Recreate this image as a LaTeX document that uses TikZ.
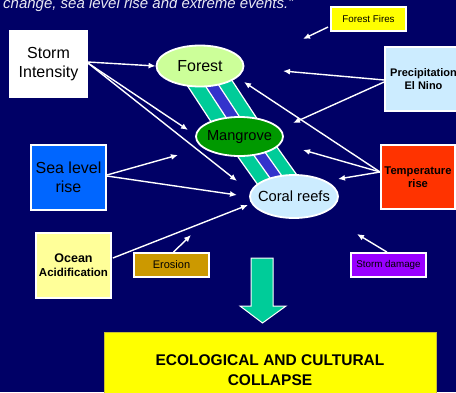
\documentclass[tikz,border=0pt]{standalone}
\usepackage{fontspec}
\setmainfont{Liberation Sans}
\usetikzlibrary{arrows.meta,shapes.geometric}
\definecolor{bg}{HTML}{000066}
\definecolor{forestc}{HTML}{CCFF99}
\definecolor{mangc}{HTML}{009900}
\definecolor{coralc}{HTML}{CCECFF}
\definecolor{tealc}{HTML}{00CC99}
\definecolor{bluec}{HTML}{3333CC}
\definecolor{seac}{HTML}{0066FF}
\definecolor{tempc}{HTML}{FF3300}
\definecolor{oceanc}{HTML}{FFFF99}
\definecolor{erosc}{HTML}{CC9900}
\definecolor{stormc}{HTML}{9900FF}
\definecolor{firec}{HTML}{FFFF00}
\definecolor{topc}{HTML}{E8E8F2}
\tikzset{
  box/.style={draw=white, line width=1.8pt, inner sep=0pt, align=center, text=black},
  oval/.style={ellipse, draw=white, line width=1.8pt, inner sep=0pt, text=black},
  arr/.style={draw=white, line width=1.4pt, -{Latex[length=7pt,width=6pt]}},
  bandline/.style={draw=white, line width=1.2pt},
}
\begin{document}
\begin{tikzpicture}[x=1pt,y=-1pt]
\fill[bg] (0,0) rectangle (456,392);
\useasboundingbox (0,0) rectangle (456,392);

% top text
\node[anchor=base west, inner sep=0pt, text=topc, font=\itshape\fontsize{15}{17}\selectfont] (quote) at (3,8.5) {change, sea level rise and extreme events.”};

% bands
\fill[tealc] (170.6,60) -- (218.6,60) -- (271,140) -- (223,140) -- cycle;
\fill[bluec] (188.4,60) -- (202.3,60) -- (254.7,140) -- (240.8,140) -- cycle;
\path[bandline] (170.6,60) -- (223,140) (188.4,60) -- (240.8,140) (202.3,60) -- (254.7,140) (218.6,60) -- (271,140);
\fill[tealc] (226,140) -- (272,140) -- (314.6,200) -- (268.6,200) -- cycle;
\fill[bluec] (243,140) -- (256.4,140) -- (299,200) -- (285.6,200) -- cycle;
\path[bandline] (226,140) -- (268.6,200) (243,140) -- (285.6,200) (256.4,140) -- (299,200) (272,140) -- (314.6,200);

% ellipses
\node[oval, fill=forestc, minimum width=87, minimum height=41, font=\fontsize{16}{18}\selectfont] (fo) at (200,66) {\makebox[0pt]{Forest}};
\node[oval, fill=mangc, minimum width=87, minimum height=39, font=\fontsize{14.6}{17}\selectfont] (ma) at (239.5,136.5) {\makebox[0pt]{Mangrove}};
\node[oval, fill=coralc, minimum width=88, minimum height=43, font=\fontsize{14.7}{17}\selectfont] (co) at (294,196.5) {\makebox[0pt]{Coral reefs}};

% boxes
\node[box, fill=white, minimum width=77, minimum height=66, font=\fontsize{16}{18.5}\selectfont] (si) at (48.5,64) {Storm\\Intensity};
\node[box, fill=firec, minimum width=75, minimum height=24, font=\fontsize{9.8}{11}\selectfont] (ff) at (368.5,19) {Forest Fires};
\node[box, fill=coralc, minimum width=77, minimum height=64, font=\bfseries\fontsize{11}{13.5}\selectfont] (pr) at (423.5,79) {Precipitation\\El Nino};
\node[box, fill=tempc, minimum width=74, minimum height=64, font=\bfseries\fontsize{11.2}{13}\selectfont] (te) at (418,177) {\makebox[0pt]{Temperature}\\rise};
\node[box, fill=seac, minimum width=75, minimum height=65, font=\fontsize{16}{19}\selectfont] (se) at (68.5,177.5) {Sea level\\rise};
\node[box, fill=oceanc, minimum width=75, minimum height=65, font=\bfseries\fontsize{11.5}{14}\selectfont] (oc) at (73.5,265.5) {{\fontsize{12.5}{14}\selectfont Ocean}\\Acidification};
\node[box, fill=erosc, minimum width=75, minimum height=24, font=\fontsize{11}{12}\selectfont] (er) at (171.5,265) {Erosion};
\node[box, fill=stormc, minimum width=75, minimum height=24, font=\fontsize{9.8}{11}\selectfont] (sd) at (388.5,265) {Storm damage};

% arrow tips
\coordinate (tSM) at (188,130);
\coordinate (tSC) at (237,181);
\coordinate (tPF) at (283,71);
\coordinate (tPM) at (293,123);
\coordinate (tTF) at (244,82);
\coordinate (tTM) at (303,150);
\coordinate (tTC) at (338,179);
\coordinate (tEM) at (178,155);
\coordinate (tEC) at (237,195);
\coordinate (tOC) at (248,205);
\coordinate (tER) at (191,235);
\coordinate (tSD) at (357,234);
\coordinate (tFF) at (303,39);

\draw[arr] ([yshift=2pt]si.east) -- (fo.west);
\draw[arr] ([yshift=1pt]si.east) -- (tSM);
\draw[arr] ([yshift=1pt]si.east) -- (tSC);
\draw[arr] ([yshift=-1pt]pr.west) -- (tPF);
\draw[arr] ([yshift=-3pt]pr.west) -- (tPM);
\draw[arr] ([yshift=5pt]te.west) -- (tTF);
\draw[arr] ([yshift=5pt]te.west) -- (tTM);
\draw[arr] ([yshift=5pt]te.west) -- (tTC);
\draw[arr] ([yshift=2.5pt]se.east) -- (tEM);
\draw[arr] ([yshift=1.5pt]se.east) -- (tEC);
\draw[arr] ([yshift=7.5pt,xshift=1pt]oc.east) -- (tOC);
\draw[arr] ([xshift=2pt]er.north) -- (tER);
\draw[arr] ([xshift=-1.5pt]sd.north) -- (tSD);
\draw[arr] ([yshift=-8pt,xshift=-2pt]ff.west) -- (tFF);

% big arrow
\draw[white, line width=1pt, fill=tealc] (251,258) -- (273,258) -- (273,306) -- (286,306) -- (262.5,323) -- (240,306) -- (251,306) -- cycle;

% collapse box
\node[draw=yellow!75!black, line width=0.8pt, fill=firec, inner sep=0pt, minimum width=332, minimum height=76, align=center, text=black, font=\bfseries\fontsize{15.5}{19.5}\selectfont] (col) at (270,370) {ECOLOGICAL AND CULTURAL\\COLLAPSE};
\end{tikzpicture}
\end{document}
